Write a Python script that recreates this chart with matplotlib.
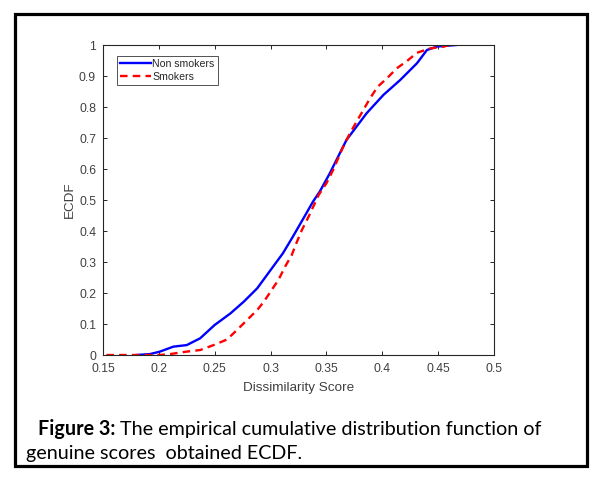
import numpy as np
import matplotlib.pyplot as plt
from matplotlib.patches import Rectangle

# values (dissimilarity score, ECDF)
non_smokers_x = [0.180, 0.192, 0.201, 0.213, 0.225, 0.237, 0.250, 0.264, 0.276, 0.288,
                 0.300, 0.311, 0.320, 0.332, 0.338, 0.344, 0.353, 0.362, 0.368, 0.377,
                 0.386, 0.401, 0.416, 0.431, 0.440, 0.449, 0.466]
non_smokers_y = [0.000, 0.003, 0.011, 0.027, 0.032, 0.054, 0.097, 0.134, 0.172, 0.215,
                 0.274, 0.328, 0.382, 0.457, 0.495, 0.527, 0.586, 0.651, 0.694, 0.737,
                 0.780, 0.839, 0.887, 0.941, 0.984, 0.995, 1.000]

smokers_x = [0.153, 0.200, 0.210, 0.225, 0.237, 0.249, 0.261, 0.270, 0.279, 0.288,
             0.294, 0.301, 0.307, 0.313, 0.319, 0.323, 0.328, 0.334, 0.343, 0.350,
             0.356, 0.365, 0.371, 0.377, 0.383, 0.389, 0.396, 0.404, 0.413, 0.422,
             0.431, 0.443, 0.455, 0.460]
smokers_y = [0.000, 0.000, 0.003, 0.011, 0.016, 0.032, 0.050, 0.081, 0.113, 0.145,
             0.172, 0.210, 0.242, 0.285, 0.323, 0.360, 0.403, 0.446, 0.516, 0.554,
             0.597, 0.672, 0.715, 0.753, 0.790, 0.828, 0.866, 0.892, 0.925, 0.948,
             0.975, 0.989, 0.995, 1.000]

xticks = [0.15, 0.2, 0.25, 0.3, 0.35, 0.4, 0.45, 0.5]
xtick_labels = ['0.15', '0.2', '0.25', '0.3', '0.35', '0.4', '0.45', '0.5']
yticks = [0, 0.1, 0.2, 0.3, 0.4, 0.5, 0.6, 0.7, 0.8, 0.9, 1]
ytick_labels = ['0', '0.1', '0.2', '0.3', '0.4', '0.5', '0.6', '0.7', '0.8', '0.9', '1']

plt.rcParams['font.family'] = ['Liberation Sans', 'DejaVu Sans']
grey = '#262626'
tickgrey = '#404040'

fig = plt.figure(figsize=(6.02, 4.83), dpi=100)
ax = fig.add_axes([0.1711, 0.2650, 0.6495, 0.6418])

ax.plot(non_smokers_x, non_smokers_y, color='#0000ff', lw=1.7, label='Non smokers')
ax.plot(smokers_x, smokers_y, color='#ff0000', lw=1.7, ls=(0, (3.2, 2.2)), label='Smokers')

ax.set_xlim(0.15, 0.5)
ax.set_ylim(0, 1)
ax.set_xticks(xticks)
ax.set_xticklabels(xtick_labels)
ax.set_yticks(yticks)
ax.set_yticklabels(ytick_labels)
ax.tick_params(direction='in', length=3, width=0.7, colors=grey, labelcolor=tickgrey,
               labelsize=8.7, top=True, right=True)
ax.tick_params(axis='x', pad=5.5)
ax.tick_params(axis='y', pad=5)
for s in ax.spines.values():
    s.set_color(grey)
    s.set_linewidth(0.8)
ax.set_xlabel('Dissimilarity Score', fontsize=9.7, color=tickgrey, labelpad=5)
ax.set_ylabel('ECDF', fontsize=9.7, color=tickgrey, labelpad=2)

leg = ax.legend(loc='upper left', bbox_to_anchor=(0.036, 0.965), fontsize=7.6,
                frameon=True, fancybox=False, handlelength=2.9, handletextpad=0.15,
                borderpad=0.3, labelspacing=0.25, borderaxespad=0)
leg.get_frame().set_edgecolor(grey)
leg.get_frame().set_linewidth(0.7)
for txt in leg.get_texts():
    txt.set_color(grey)

# outer border of the figure panel
fig.patches.append(Rectangle((0.0249, 0.0352), 0.9501, 0.9358, transform=fig.transFigure,
                             fill=False, edgecolor='black', lw=2.3))

cap_size = 14.2
t1 = fig.text(0.063, 0.099, 'Figure 3:', fontsize=cap_size, family='Lato', weight='bold')
fig.canvas.draw()
bb = t1.get_window_extent()
x2 = bb.x1 / fig.bbox.width
fig.text(x2 + 0.007, 0.099, 'The empirical cumulative distribution function of',
         fontsize=cap_size, family='Lato')
fig.text(0.043, 0.049, 'genuine scores  obtained ECDF.', fontsize=cap_size, family='Lato')

fig.savefig('out.png', dpi=100)
